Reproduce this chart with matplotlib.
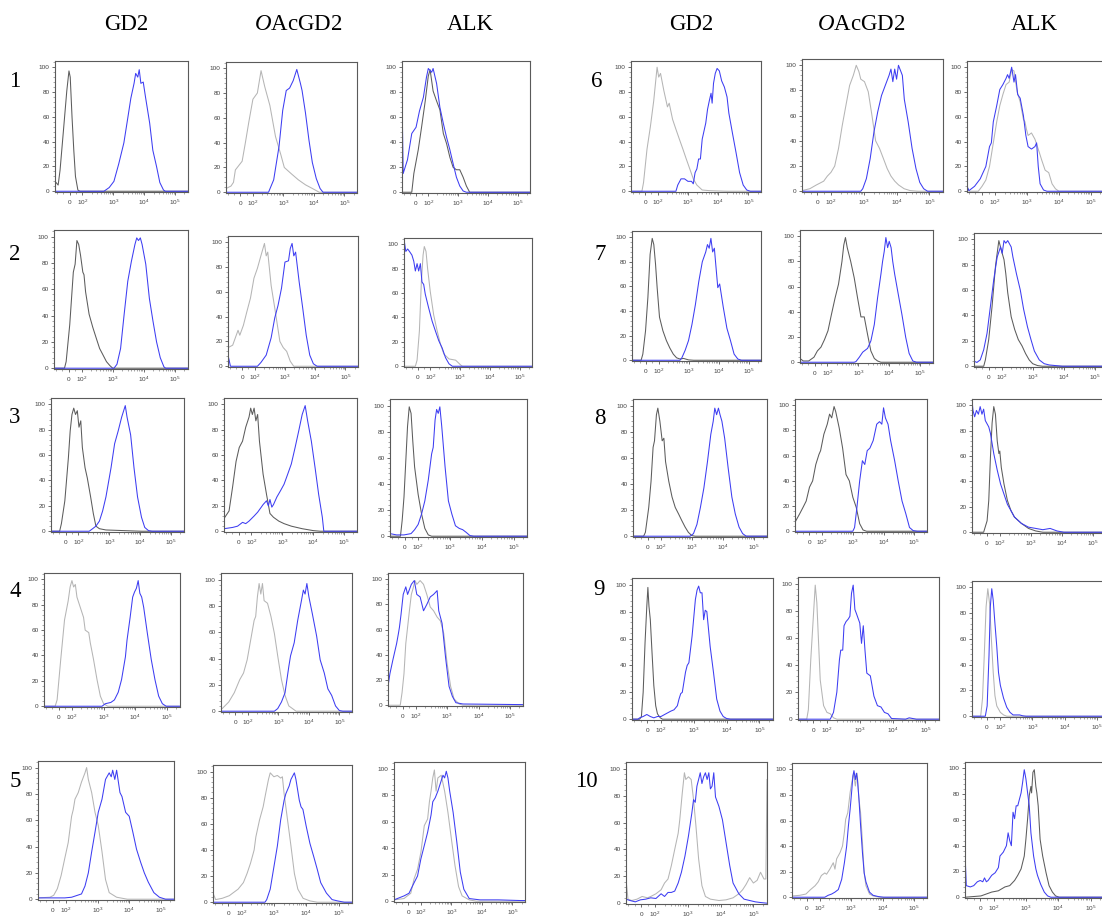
import matplotlib
matplotlib.use("Agg")
import matplotlib.pyplot as plt

plt.rcParams['font.family'] = 'Liberation Sans'
plt.rcParams['mathtext.fontset'] = 'custom'
plt.rcParams['mathtext.rm'] = 'Liberation Serif'
plt.rcParams['mathtext.it'] = 'Liberation Serif:italic'
plt.rcParams['mathtext.sf'] = 'Liberation Sans'

# column titles / row numbers
markers = ['GD2', '$O$AcGD2', 'ALK']
row_labels = ['1', '2', '3', '4', '5', '6', '7', '8', '9', '10']

# axis ticks
x_ticks = [0, 1e2, 1e3, 1e4, 1e5]
x_ticklabels = [r'$\mathsf{0}$', r'$\mathsf{10^2}$', r'$\mathsf{10^3}$', r'$\mathsf{10^4}$', r'$\mathsf{10^5}$']
y_ticks = [0, 20, 40, 60, 80, 100]

# histograms: (fluorescence, % of max) -- ctrl = isotype (grey), pos = stained (blue)
r1_gd2_ctrl = [(-115, 8), (-90, 5), (-75, 17), (-50, 47), (-22, 81), (-5, 97), (5, 92), (19, 60), (33, 33), (46, 12), (65, 1), (81, 0), (2.6e5, 0)]
r1_gd2_pos = [(-115, 0), (500, 0), (740, 3), (1050, 8), (1500, 22), (2200, 39), (2900, 58), (3700, 75), (4700, 87), (5300, 95), (6200, 92), (6900, 98), (7800, 87), (9300, 88), (1.1e4, 76), (1.5e4, 55), (1.9e4, 33), (2.5e4, 20), (3.2e4, 7), (4.2e4, 1), (4.8e4, 0), (2.6e5, 0)]
r1_oac_ctrl = [(-115, 3), (-75, 5), (-55, 8), (-40, 18), (14, 25), (40, 40), (68, 57), (100, 75), (140, 80), (185, 98), (245, 85), (360, 70), (550, 45), (830, 30), (1070, 20), (1800, 15), (3100, 10), (5300, 6), (9000, 3), (1.5e4, 0), (2.6e5, 0)]
r1_oac_pos = [(-115, 0), (325, 0), (480, 10), (720, 37), (950, 66), (1240, 82), (1600, 84), (2100, 90), (2750, 99), (3600, 88), (4100, 82), (5300, 64), (6900, 42), (8900, 24), (1.2e4, 11), (1.6e4, 3), (2e4, 0), (2.6e5, 0)]
r1_alk_ctrl = [(-115, 0), (-35, 0), (-18, 15), (18, 34), (45, 52), (75, 73), (100, 93), (115, 98), (145, 81), (190, 73), (245, 66), (320, 47), (410, 39), (530, 28), (680, 20), (880, 18), (1140, 18), (1480, 12), (1900, 5), (2450, 0), (2.6e5, 0)]
r1_alk_pos = [(-115, 78), (-105, 15), (-70, 26), (-35, 47), (0, 52), (28, 65), (60, 76), (85, 92), (100, 99), (130, 96), (145, 99), (190, 87), (245, 68), (320, 55), (410, 44), (530, 34), (680, 23), (880, 12), (1140, 5), (1480, 1), (1900, 0), (2.6e5, 0)]

r2_gd2_ctrl = [(-115, 0), (-33, 0), (-20, 5), (8, 33), (36, 73), (50, 79), (64, 97), (78, 94), (92, 86), (110, 73), (120, 71), (135, 58), (175, 41), (230, 31), (295, 23), (380, 15), (490, 10), (630, 5), (810, 2), (1000, 0), (2.6e5, 0)]
r2_gd2_pos = [(-115, 0), (1100, 0), (1370, 3), (1790, 15), (2330, 41), (3040, 66), (3960, 81), (5160, 94), (5900, 99), (6720, 97), (7700, 99), (8770, 94), (1.15e4, 79), (1.5e4, 53), (1.95e4, 36), (2.55e4, 20), (3.35e4, 8), (4.4e4, 1), (5e4, 0), (2.6e5, 0)]
r2_oac_ctrl = [(-115, 15), (-77, 17), (-34, 29), (-20, 25), (9, 33), (37, 44), (66, 55), (94, 71), (123, 79), (160, 89), (210, 99), (240, 89), (270, 92), (350, 65), (460, 47), (680, 20), (880, 15), (1140, 12), (1500, 4), (1950, 0), (2.6e5, 0)]
r2_oac_pos = [(-115, 9), (-95, 0), (123, 0), (160, 3), (240, 9), (350, 23), (460, 39), (590, 49), (770, 63), (1000, 84), (1310, 85), (1500, 95), (1720, 99), (1960, 89), (2250, 92), (2950, 68), (3860, 47), (5050, 25), (6600, 9), (8700, 2), (1.15e4, 0), (2.6e5, 0)]
r2_alk_ctrl = [(-115, 0), (-22, 0), (-8, 5), (11, 29), (27, 69), (41, 91), (51, 98), (65, 94), (78, 80), (100, 61), (130, 42), (170, 29), (220, 18), (285, 10), (425, 6), (710, 5), (1050, 1), (1200, 0), (2.6e5, 0)]
r2_alk_pos = [(-115, 104), (-100, 94), (-85, 96), (-70, 94), (-50, 91), (-35, 86), (-22, 78), (-8, 84), (5, 78), (19, 84), (32, 69), (46, 67), (59, 59), (86, 48), (115, 37), (148, 29), (192, 21), (250, 15), (325, 7), (425, 2), (550, 0), (2.6e5, 0)]

r3_gd2_ctrl = [(-115, 0), (-47, 0), (-33, 6), (-6, 24), (22, 58), (36, 79), (50, 92), (64, 97), (78, 92), (92, 95), (105, 82), (120, 87), (135, 66), (165, 50), (195, 42), (250, 27), (305, 14), (370, 4), (480, 2), (780, 1), (2900, 0.5), (1.1e4, 0), (2.6e5, 0)]
r3_gd2_pos = [(-115, 0), (225, 0), (290, 2), (370, 4), (480, 8), (610, 16), (780, 27), (890, 35), (1140, 50), (1490, 69), (1940, 79), (2520, 90), (3290, 99), (3750, 90), (4900, 76), (6300, 50), (8200, 27), (1.1e4, 11), (1.4e4, 3), (1.85e4, 0.5), (2.4e4, 0), (2.6e5, 0)]
r3_oac_ctrl = [(-115, 10), (-75, 16), (-47, 35), (-20, 55), (5, 66), (31, 71), (56, 82), (82, 90), (95, 97), (108, 92), (123, 97), (140, 87), (160, 92), (183, 71), (240, 45), (310, 29), (400, 14), (520, 11), (770, 8), (1140, 6), (1960, 4), (4400, 2), (1e4, 0.5), (1.7e4, 0), (2.6e5, 0)]
r3_oac_pos = [(-115, 2), (-47, 3), (-8, 4), (31, 7), (56, 6), (82, 8), (123, 12), (160, 15), (210, 19), (240, 21), (310, 24), (355, 20), (400, 25), (460, 19), (520, 21), (670, 27), (880, 32), (1140, 37), (1500, 45), (1960, 53), (2600, 66), (3400, 79), (4400, 92), (5500, 99), (6600, 87), (8700, 71), (1.15e4, 50), (1.5e4, 29), (1.97e4, 11), (2.2e4, 0), (2.6e5, 0)]
r3_alk_ctrl = [(-115, 0), (-35, 0), (-22, 12), (-8, 30), (5, 56), (19, 84), (32, 99), (46, 94), (59, 73), (73, 53), (100, 32), (128, 17), (162, 6), (208, 1), (265, 0), (2.6e5, 0)]
r3_alk_pos = [(-115, 2), (-65, 1), (-8, 1), (46, 2), (73, 5), (100, 9), (128, 17), (162, 27), (208, 43), (265, 63), (297, 68), (340, 89), (380, 97), (427, 94), (480, 99), (550, 84), (700, 53), (890, 27), (1140, 17), (1480, 8), (1940, 6), (2500, 5), (3200, 3), (4200, 0.5), (5500, 0), (2.6e5, 0)]

r4_gd2_ctrl = [(-115, 0), (-29, 0), (-14, 5), (14, 37), (43, 68), (71, 83), (86, 94), (100, 99), (113, 94), (128, 96), (144, 86), (183, 78), (233, 70), (262, 60), (340, 58), (380, 50), (480, 37), (620, 21), (790, 8), (1000, 2), (1350, 0), (2.6e5, 0)]
r4_gd2_pos = [(-115, 0), (890, 0), (1140, 2), (1700, 3), (2200, 5), (2900, 11), (3700, 21), (4900, 39), (5500, 52), (6900, 70), (8300, 86), (9500, 90), (1.09e4, 93), (1.24e4, 99), (1.4e4, 89), (1.6e4, 86), (1.85e4, 78), (2.4e4, 58), (3.2e4, 37), (4.2e4, 21), (5.5e4, 8), (7.2e4, 2), (9.5e4, 0), (2.6e5, 0)]
r4_oac_ctrl = [(-115, 2), (-105, 2), (-53, 7), (-9, 14), (35, 24), (65, 29), (94, 39), (123, 54), (160, 69), (180, 72), (205, 87), (233, 97), (265, 89), (300, 97), (340, 84), (440, 82), (570, 72), (740, 59), (950, 42), (1260, 24), (1650, 12), (2200, 4), (2900, 2), (3800, 0), (2.6e5, 0)]
r4_oac_pos = [(-115, 0), (740, 0), (950, 2), (1260, 7), (1650, 14), (2200, 34), (2500, 42), (3300, 52), (4300, 69), (5700, 84), (6600, 92), (7500, 89), (8600, 97), (1e4, 87), (1.3e4, 74), (1.8e4, 57), (2.35e4, 39), (3.2e4, 29), (4.2e4, 17), (5.6e4, 12), (7.5e4, 4), (1e5, 0.5), (1.3e5, 0), (2.6e5, 0)]
r4_alk_ctrl = [(-115, 0), (-20, 0), (-6, 10), (9, 25), (23, 49), (37, 62), (51, 75), (66, 88), (80, 93), (94, 99), (108, 96), (138, 99), (177, 96), (225, 88), (290, 78), (370, 75), (480, 70), (610, 67), (780, 57), (1000, 33), (1290, 15), (1660, 5), (2400, 1), (3200, 0), (2.6e5, 0)]
r4_alk_pos = [(-115, 15), (-100, 25), (-77, 36), (-48, 49), (-34, 57), (-26, 62), (-14, 72), (3, 88), (23, 94), (37, 88), (66, 96), (89, 99), (108, 88), (138, 86), (177, 75), (225, 80), (290, 86), (370, 88), (480, 91), (540, 75), (690, 65), (890, 38), (1150, 15), (1470, 7), (1900, 2), (3200, 1), (2.6e5, 0.5)]

r5_gd2_ctrl = [(-115, 1), (-23, 1.5), (6, 3), (34, 8), (63, 18), (91, 31), (118, 43), (151, 63), (170, 68), (193, 76), (245, 81), (310, 89), (400, 96), (450, 100), (510, 91), (650, 81), (830, 66), (1050, 56), (1380, 36), (1780, 15), (2330, 5), (4000, 1.5), (8700, 0), (2.6e5, 0)]
r5_gd2_pos = [(-115, 1), (91, 1), (151, 1.5), (310, 4), (400, 10), (510, 20), (650, 36), (830, 51), (1050, 66), (1380, 76), (1780, 91), (2330, 96), (2700, 93), (3000, 98), (3500, 91), (4000, 98), (5100, 81), (5900, 78), (7700, 66), (1e4, 63), (1.3e4, 51), (1.7e4, 38), (2.3e4, 28), (3e4, 20), (4e4, 13), (6e4, 5), (9e4, 1.5), (1.4e5, 0), (2.6e5, 0)]
r5_oac_ctrl = [(-115, 7), (-95, 2), (-45, 3), (8, 5), (34, 7), (74, 10), (114, 15), (148, 22), (190, 30), (245, 40), (277, 50), (360, 63), (465, 73), (555, 83), (680, 94), (770, 99), (1000, 96), (1280, 97), (1620, 95), (1830, 96), (2070, 83), (2640, 63), (3370, 43), (4300, 22), (5500, 10), (8000, 3), (1.3e4, 1), (2.2e4, 0), (2.6e5, 0)]
r5_oac_pos = [(-115, 0), (530, 0), (600, 2), (770, 10), (1000, 27), (1280, 43), (1620, 63), (2070, 78), (2340, 83), (2970, 89), (3370, 94), (4300, 99), (4800, 94), (6100, 78), (6900, 73), (7900, 71), (1e4, 58), (1.3e4, 45), (1.7e4, 35), (2.2e4, 25), (2.8e4, 15), (4.2e4, 7), (6.3e4, 2), (9.3e4, 1), (1.5e5, 0), (2.6e5, 0)]
r5_alk_ctrl = [(-115, 1), (-35, 2), (19, 6), (46, 17), (73, 24), (100, 37), (129, 57), (166, 62), (190, 75), (215, 83), (245, 93), (277, 99), (315, 83), (360, 93), (465, 95), (600, 83), (770, 67), (1000, 47), (1310, 27), (1720, 11), (2250, 4), (3850, 1), (6600, 0), (2.6e5, 0)]
r5_alk_pos = [(-115, 1), (-35, 4), (5, 6), (46, 14), (73, 19), (100, 32), (129, 42), (166, 52), (215, 65), (245, 75), (295, 78), (360, 83), (465, 91), (530, 95), (600, 93), (680, 98), (770, 93), (880, 83), (1140, 67), (1500, 45), (1960, 22), (2560, 9), (3850, 2), (8700, 1), (3.5e4, 1), (1.85e5, 0.5), (2.6e5, 0.5)]

r6_gd2_ctrl = [(-115, 0), (-27, 0), (-14, 7), (14, 34), (41, 52), (68, 73), (95, 100), (108, 92), (124, 95), (160, 81), (210, 68), (240, 71), (310, 58), (400, 50), (520, 42), (680, 34), (880, 26), (1150, 18), (1500, 10), (1970, 5), (2960, 1), (5000, 0.5), (1.96e4, 0), (2.6e5, 0)]
r6_gd2_pos = [(-115, 0), (400, 0), (460, 5), (590, 10), (770, 10), (1000, 8), (1310, 8), (1500, 6), (1720, 15), (1970, 18), (2250, 26), (2580, 26), (2960, 42), (3880, 55), (4440, 66), (5090, 73), (5800, 79), (6300, 71), (7000, 87), (8000, 95), (9200, 99), (1.09e4, 97), (1.3e4, 89), (1.6e4, 84), (1.96e4, 76), (2.25e4, 63), (2.95e4, 47), (3.9e4, 31), (5.1e4, 15), (6.7e4, 5), (8.8e4, 1), (1.15e5, 0), (2.6e5, 0)]
r6_oac_ctrl = [(-115, 0.5), (-57, 2), (-8, 5), (46, 8), (73, 12), (100, 15), (130, 20), (170, 34), (220, 52), (285, 68), (370, 84), (480, 92), (590, 100), (710, 95), (810, 89), (1050, 87), (1370, 79), (1780, 60), (2300, 40), (3020, 34), (3960, 26), (5170, 18), (6750, 12), (8800, 8), (1.15e4, 5), (1.7e4, 2), (2.6e4, 0.5), (4.5e4, 0), (2.6e5, 0)]
r6_oac_pos = [(-115, 0), (810, 0), (930, 2), (1200, 10), (1570, 26), (2040, 47), (2660, 63), (3470, 76), (4520, 84), (5900, 92), (6730, 97), (7690, 87), (8770, 97), (1e4, 89), (1.14e4, 100), (1.31e4, 96), (1.5e4, 92), (1.72e4, 73), (2.26e4, 55), (2.97e4, 34), (3.9e4, 18), (5.1e4, 7), (6.7e4, 2), (8.8e4, 0), (2.6e5, 0)]
r6_alk_ctrl = [(-115, 4), (-100, 0), (-29, 0), (0, 4), (29, 9), (57, 20), (86, 39), (112, 56), (140, 69), (175, 78), (220, 86), (275, 88), (330, 98), (390, 97), (490, 80), (610, 72), (770, 58), (860, 56), (960, 50), (1080, 45), (1380, 47), (1770, 42), (2250, 34), (2900, 25), (3700, 17), (4800, 15), (6100, 6), (7800, 2), (1e4, 0), (2.6e5, 0)]
r6_alk_pos = [(-115, 4), (-100, 0.5), (-57, 4), (-14, 10), (29, 20), (57, 36), (71, 39), (86, 56), (112, 69), (140, 82), (175, 86), (220, 91), (245, 94), (275, 91), (330, 100), (390, 88), (435, 94), (510, 78), (610, 75), (770, 61), (920, 45), (1080, 36), (1380, 34), (1770, 36), (2000, 39), (2250, 20), (2570, 6), (3300, 1), (4200, 0), (2.6e5, 0)]

r7_gd2_ctrl = [(-115, 0), (-41, 0), (-27, 5), (-5, 24), (14, 51), (32, 86), (49, 99), (62, 94), (76, 78), (89, 59), (108, 35), (140, 24), (183, 16), (238, 10), (310, 5), (400, 2), (520, 1), (680, 1.5), (1000, 0.3), (1480, 0), (2.6e5, 0)]
r7_gd2_pos = [(-115, 0), (520, 0), (600, 2), (770, 8), (1000, 16), (1300, 29), (1690, 45), (2200, 64), (2880, 80), (3750, 88), (4280, 94), (4880, 91), (5570, 99), (6360, 88), (7260, 91), (8280, 75), (9450, 59), (1.09e4, 62), (1.44e4, 43), (1.9e4, 26), (2.5e4, 16), (3.3e4, 5), (4.4e4, 1), (5.8e4, 0), (2.6e5, 0)]
r7_oac_ctrl = [(-115, 3), (-89, 1), (-47, 1), (-5, 4), (22, 9), (50, 12), (78, 18), (105, 25), (136, 38), (178, 51), (230, 62), (297, 80), (340, 93), (385, 99), (440, 91), (570, 80), (740, 67), (950, 51), (1220, 36), (1560, 36), (2000, 22), (2550, 9), (3300, 3), (4200, 1), (5400, 0), (2.6e5, 0)]
r7_oac_pos = [(-115, 0), (740, 0), (840, 0.5), (1080, 4), (1390, 8), (2000, 11), (2560, 17), (3300, 30), (4200, 51), (5400, 70), (6100, 80), (6900, 88), (7800, 99), (8900, 91), (1e4, 96), (1.15e4, 91), (1.3e4, 80), (1.5e4, 70), (1.96e4, 54), (2.57e4, 38), (3.4e4, 20), (4.4e4, 7), (5.8e4, 1), (7.6e4, 0), (2.6e5, 0)]
r7_alk_ctrl = [(-115, 0), (-39, 0), (-26, 5), (0, 21), (26, 47), (53, 79), (79, 99), (92, 94), (105, 89), (120, 84), (137, 73), (158, 58), (204, 39), (264, 29), (345, 21), (455, 16), (590, 10), (770, 5), (1000, 2), (1440, 0.5), (2070, 0), (2.6e5, 0)]
r7_alk_pos = [(-115, 4), (-92, 3), (-66, 5), (-39, 13), (-13, 26), (13, 47), (39, 68), (66, 86), (92, 94), (105, 89), (120, 99), (137, 97), (158, 99), (204, 94), (232, 86), (300, 73), (400, 60), (510, 45), (680, 31), (880, 21), (1130, 12), (1620, 5), (2340, 2), (3400, 1), (5500, 0.5), (8900, 0), (2.6e5, 0)]

r8_gd2_ctrl = [(-115, 0), (-32, 0), (-18, 3), (8, 22), (26, 42), (42, 68), (53, 73), (68, 93), (79, 98), (95, 88), (113, 73), (128, 75), (145, 57), (184, 42), (234, 30), (297, 22), (380, 17), (480, 12), (615, 7), (780, 3), (1000, 0.5), (1290, 0), (2.6e5, 0)]
r8_gd2_pos = [(-115, 0), (890, 0), (1140, 2), (1470, 9), (1900, 22), (2460, 37), (3200, 57), (4100, 78), (4900, 88), (5500, 98), (6300, 93), (7200, 98), (8100, 93), (9300, 88), (1.14e4, 75), (1.48e4, 52), (1.94e4, 30), (2.5e4, 17), (3.3e4, 7), (4.3e4, 2), (5.6e4, 0), (2.6e5, 0)]
r8_oac_ctrl = [(-115, 27), (-110, 8), (-77, 14), (-51, 19), (-26, 24), (0, 35), (25, 40), (50, 53), (75, 61), (88, 64), (114, 77), (147, 85), (175, 93), (205, 90), (245, 99), (277, 95), (360, 82), (465, 66), (600, 45), (770, 40), (1000, 27), (1290, 19), (1670, 6), (2150, 1), (2800, 0), (2.6e5, 0)]
r8_oac_pos = [(-115, 0), (1000, 0), (1140, 3), (1360, 19), (1670, 40), (2050, 56), (2450, 53), (2940, 64), (3600, 66), (4600, 72), (6000, 85), (7400, 87), (8800, 85), (1e4, 98), (1.15e4, 90), (1.4e4, 85), (1.7e4, 72), (2.3e4, 56), (3e4, 40), (4e4, 24), (5.3e4, 14), (7e4, 3), (9.2e4, 0.5), (1.25e5, 0), (2.6e5, 0)]
r8_alk_ctrl = [(-115, 0), (-24, 0), (3, 9), (16, 25), (29, 59), (42, 86), (55, 99), (68, 93), (82, 72), (95, 62), (102, 64), (114, 51), (139, 38), (179, 25), (233, 17), (300, 12), (500, 7), (850, 3), (1450, 1), (2450, 0), (2.6e5, 0)]
r8_alk_pos = [(-115, 104), (-107, 96), (-94, 91), (-80, 96), (-65, 93), (-51, 99), (-37, 93), (-24, 97), (-11, 88), (16, 83), (29, 78), (42, 70), (55, 62), (82, 49), (108, 38), (139, 30), (179, 22), (233, 17), (300, 12), (500, 7), (850, 4), (1450, 3), (2450, 2), (4200, 3), (7000, 1), (1.15e4, 0), (2.6e5, 0)]

r9_gd2_ctrl = [(-115, 0), (-58, 0), (-45, 2), (-32, 20), (-18, 57), (-5, 84), (3, 98), (11, 84), (21, 74), (34, 49), (47, 25), (61, 10), (74, 4), (95, 1), (112, 0), (2.6e5, 0)]
r9_gd2_pos = [(-115, 0), (-71, 0), (-58, 1), (-32, 2), (-5, 3.5), (21, 2), (47, 1), (74, 2), (100, 2), (141, 4), (200, 6), (250, 7), (316, 10), (355, 15), (400, 19), (447, 20), (560, 35), (630, 40), (710, 42), (890, 62), (1120, 89), (1260, 96), (1410, 99), (1580, 94), (1780, 94), (2000, 74), (2240, 81), (2500, 80), (3160, 54), (3980, 35), (5000, 15), (6300, 6), (7900, 2), (1e4, 0.5), (1.3e4, 0), (2.6e5, 0)]
r9_oac_ctrl = [(-115, 0), (-50, 0), (-38, 7), (-20, 44), (-5, 69), (13, 99), (25, 86), (38, 56), (50, 29), (75, 10), (100, 5), (126, 4), (158, 1), (200, 0), (2.6e5, 0)]
r9_oac_pos = [(-115, 0), (126, 0), (158, 5), (200, 20), (240, 44), (263, 51), (302, 51), (331, 69), (380, 72), (447, 74), (500, 76), (560, 93), (630, 99), (710, 81), (790, 78), (1000, 71), (1130, 56), (1280, 69), (1440, 51), (1640, 34), (2100, 32), (2700, 17), (3450, 10), (4430, 9), (5650, 5), (7240, 4), (9300, 0.5), (2.5e4, 0), (3.2e4, 1), (4.1e4, 0.5), (5.3e4, 0), (2.6e5, 0)]
r9_alk_ctrl = [(-115, 0), (-49, 0), (-35, 14), (-22, 47), (-8, 85), (5, 99), (19, 87), (32, 60), (46, 34), (59, 16), (73, 8), (100, 3), (126, 1), (158, 0), (2.6e5, 0)]
r9_alk_pos = [(-115, 0), (-14, 0), (0, 8), (14, 47), (24, 85), (35, 99), (46, 90), (59, 72), (73, 54), (86, 34), (100, 24), (126, 14), (158, 7), (200, 3), (250, 1), (400, 1), (500, 0.3), (630, 0), (2.6e5, 0)]

r10_gd2_ctrl = [(-115, 18), (-100, 3), (-72, 2), (-33, 3), (5, 5), (44, 4), (69, 5), (107, 7), (154, 10), (196, 15), (250, 18), (316, 28), (400, 40), (510, 52), (570, 62), (680, 82), (790, 97), (870, 92), (1050, 94), (1270, 92), (1500, 77), (1780, 57), (2140, 33), (2700, 13), (3450, 5), (4900, 3), (8900, 2), (1.47e4, 2.5), (2.4e4, 4), (3.6e4, 7), (4.7e4, 10), (6e4, 14), (7.7e4, 19), (1e5, 15), (1.3e5, 17), (1.65e5, 23), (2.1e5, 18), (2.4e5, 18), (2.6e5, 92)]
r10_gd2_pos = [(-115, 3), (-85, 2), (-46, 1), (-8, 2.5), (31, 3), (69, 4), (107, 3.5), (154, 7), (196, 5), (250, 8), (316, 8), (400, 9), (510, 15), (640, 23), (820, 35), (1050, 50), (1330, 67), (1500, 77), (1690, 75), (1900, 87), (2140, 92), (2400, 97), (2700, 89), (3050, 94), (3450, 97), (3890, 92), (4380, 97), (4900, 85), (5500, 87), (6200, 97), (7000, 79), (8900, 72), (1.14e4, 62), (1.47e4, 45), (1.9e4, 28), (2.4e4, 15), (3.6e4, 7), (5.2e4, 3), (7.7e4, 2), (1.15e5, 1), (1.65e5, 0.5), (2.6e5, 0)]
r10_oac_ctrl = [(-115, 1), (-55, 1.5), (-7, 2.5), (29, 6), (64, 9), (88, 12), (113, 17), (145, 19), (165, 18), (210, 22), (270, 27), (305, 22), (345, 30), (445, 35), (530, 40), (610, 51), (670, 61), (780, 66), (930, 82), (1050, 90), (1200, 97), (1360, 87), (1550, 97), (1770, 77), (2000, 66), (2290, 43), (2600, 19), (2960, 9), (3840, 2.5), (5000, 1), (8300, 0), (2.6e5, 0)]
r10_oac_pos = [(-115, 0), (145, 0), (185, 1.5), (240, 2.5), (305, 4), (390, 6), (500, 14), (610, 27), (720, 40), (820, 56), (930, 69), (1050, 84), (1140, 95), (1230, 99), (1360, 92), (1470, 97), (1590, 92), (1770, 77), (2000, 56), (2290, 35), (2600, 19), (2960, 12), (3840, 4), (5000, 1.5), (7400, 0.5), (1.07e4, 0), (2.6e5, 0)]
r10_alk_ctrl = [(-115, 0), (5, 1), (86, 4), (141, 5), (225, 8), (316, 9), (447, 13), (560, 17), (710, 22), (890, 32), (1000, 45), (1130, 61), (1270, 79), (1430, 86), (1500, 81), (1650, 97), (1820, 99), (2030, 86), (2180, 81), (2400, 71), (2750, 45), (3300, 32), (4200, 19), (5200, 9), (6600, 4), (8300, 1), (1.07e4, 0), (2.6e5, 0)]
r10_alk_pos = [(-115, 35), (-105, 9), (-75, 8), (-49, 9), (-22, 12), (0, 13), (19, 12), (32, 15), (46, 12), (59, 13), (86, 17), (112, 19), (141, 23), (158, 32), (200, 35), (250, 40), (282, 50), (316, 44), (355, 40), (400, 66), (447, 61), (500, 71), (560, 71), (630, 76), (710, 81), (790, 89), (890, 99), (1000, 92), (1130, 81), (1270, 71), (1430, 50), (1730, 32), (2030, 22), (2280, 17), (2870, 10), (3700, 4), (4700, 1), (5900, 0), (2.6e5, 0)]

panels = [
    [(r1_gd2_ctrl, r1_gd2_pos), (r1_oac_ctrl, r1_oac_pos), (r1_alk_ctrl, r1_alk_pos)],
    [(r2_gd2_ctrl, r2_gd2_pos), (r2_oac_ctrl, r2_oac_pos), (r2_alk_ctrl, r2_alk_pos)],
    [(r3_gd2_ctrl, r3_gd2_pos), (r3_oac_ctrl, r3_oac_pos), (r3_alk_ctrl, r3_alk_pos)],
    [(r4_gd2_ctrl, r4_gd2_pos), (r4_oac_ctrl, r4_oac_pos), (r4_alk_ctrl, r4_alk_pos)],
    [(r5_gd2_ctrl, r5_gd2_pos), (r5_oac_ctrl, r5_oac_pos), (r5_alk_ctrl, r5_alk_pos)],
    [(r6_gd2_ctrl, r6_gd2_pos), (r6_oac_ctrl, r6_oac_pos), (r6_alk_ctrl, r6_alk_pos)],
    [(r7_gd2_ctrl, r7_gd2_pos), (r7_oac_ctrl, r7_oac_pos), (r7_alk_ctrl, r7_alk_pos)],
    [(r8_gd2_ctrl, r8_gd2_pos), (r8_oac_ctrl, r8_oac_pos), (r8_alk_ctrl, r8_alk_pos)],
    [(r9_gd2_ctrl, r9_gd2_pos), (r9_oac_ctrl, r9_oac_pos), (r9_alk_ctrl, r9_alk_pos)],
    [(r10_gd2_ctrl, r10_gd2_pos), (r10_oac_ctrl, r10_oac_pos), (r10_alk_ctrl, r10_alk_pos)],
]

# ---- styling / layout (pixels) ----
W, H = 1102, 918
BLUE = '#3d3df2'
GREYS = {'d': '#5c5c5c', 'l': '#b5b5b5'}
ctrl_tone = ['dld', 'dll', 'ddd', 'lll', 'lll', 'lll', 'ddd', 'ddd', 'dll', 'lld']

# (left, right, top, bottom) of each plot frame
boxes = [
    [(55, 188, 61, 192), (226, 357, 62, 193), (402, 530, 61, 193)],
    [(54, 188, 230, 369), (228, 358, 236, 367), (404, 532, 238, 367)],
    [(51, 184, 398, 532), (224, 357, 398, 532), (390, 527, 399, 537)],
    [(44, 180, 573, 707), (221, 352, 573, 712), (388, 523, 573, 706)],
    [(38, 174, 761, 900), (213, 352, 765, 903), (394, 525, 762, 902)],
    [(631, 761, 61, 192), (802, 943, 59, 192), (967, 1104, 61, 192)],
    [(632, 761, 231, 361), (800, 933, 230, 363), (974, 1108, 233, 367)],
    [(633, 767, 399, 537), (795, 927, 399, 532), (972, 1106, 399, 533)],
    [(632, 773, 578, 720), (798, 939, 577, 720), (972, 1110, 581, 717)],
    [(626, 767, 762, 904), (792, 927, 763, 898), (965, 1104, 762, 898)],
]
title_x = [126, 298, 470, 691, 861, 1034]
label_pos = [(15, 87), (15, 260), (15, 423), (15, 597), (15, 787),
             (597, 87), (600, 260), (600, 424), (599, 595), (586, 787)]

minor_x = [-100, -50, 50] + [k * 10 ** d for d in (2, 3, 4, 5) for k in range(2, 10) if k * 10 ** d < 2.6e5]

fig = plt.figure(figsize=(W / 100, H / 100), dpi=100)
fig.patch.set_facecolor('white')


def draw_panel(ax, ctrl, pos, tone):
    cx, cy = zip(*ctrl)
    px, py = zip(*pos)
    ax.plot(cx, cy, color=GREYS[tone], lw=0.75)
    ax.plot(px, py, color=BLUE, lw=0.75)
    ax.set_xscale('symlog', linthresh=100, linscale=0.37)
    ax.set_xlim(-115, 2.6e5)
    ax.set_ylim(-0.6, 105)
    ax.set_xticks(x_ticks, x_ticklabels)
    ax.set_xticks(minor_x, minor=True)
    ax.set_xticklabels([], minor=True)
    ax.set_yticks(y_ticks)
    ax.set_yticks(range(0, 105, 4), minor=True)
    ax.tick_params(which='major', length=2.4, width=0.6, color='#555555',
                   labelsize=4.6, labelcolor='#404040', pad=1.5)
    ax.tick_params(axis='x', which='major', pad=6.5)
    ax.tick_params(which='minor', length=1.3, width=0.4, color='#666666')
    # common baseline for "0" and the powers of ten
    for lab in ax.get_xticklabels():
        lab.set_verticalalignment('baseline')
    for s in ax.spines.values():
        s.set_color('#5a5a5a')
        s.set_linewidth(0.8)


for i, row in enumerate(panels):
    for j, (ctrl, pos) in enumerate(row):
        l, r, t, b = boxes[i][j]
        ax = fig.add_axes([l / W, 1 - b / H, (r - l) / W, (b - t) / H])
        draw_panel(ax, ctrl, pos, ctrl_tone[i][j])

for k, x in enumerate(title_x):
    fig.text(x / W, 1 - 30 / H, markers[k % 3], ha='center', va='baseline',
             family='Liberation Serif', fontsize=16.5)

for lab, (x, y) in zip(row_labels, label_pos):
    fig.text(x / W, 1 - y / H, lab, ha='center', va='baseline',
             family='Liberation Serif', fontsize=16.5)

fig.savefig('out.png', dpi=100, facecolor='white')
